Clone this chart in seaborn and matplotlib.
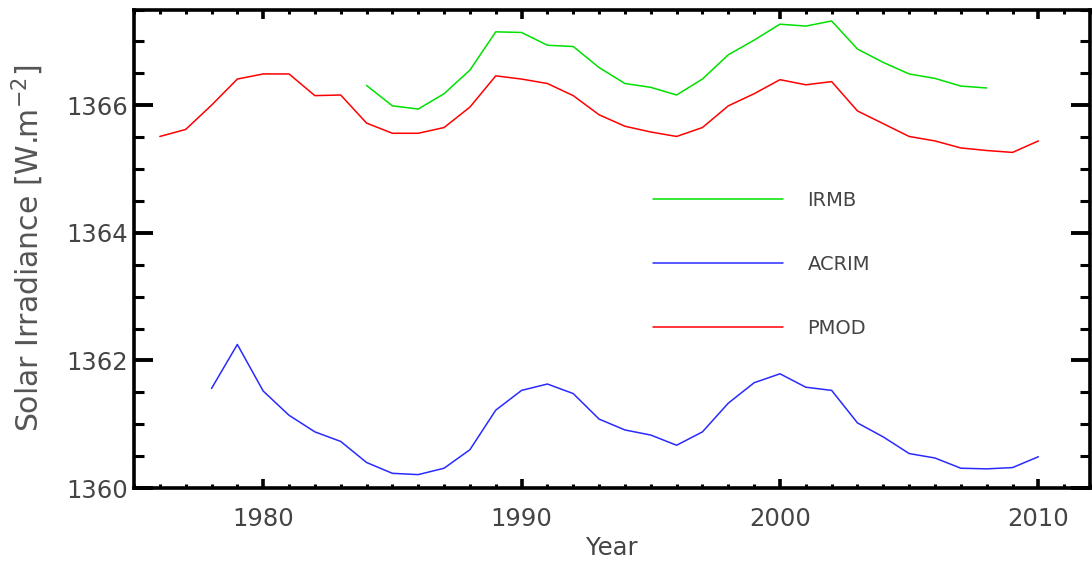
import matplotlib
matplotlib.use("Agg")
import matplotlib.pyplot as plt
from matplotlib.ticker import MultipleLocator
import numpy as np
import pandas as pd
import seaborn as sns

# Annual total solar irradiance composites [W m^-2]
pmod_years = list(range(1976, 2011))
pmod_vals = [1365.51, 1365.62, 1366.00, 1366.41, 1366.49, 1366.49, 1366.15, 1366.16,
             1365.72, 1365.56, 1365.56, 1365.65, 1365.97, 1366.46, 1366.41, 1366.34,
             1366.15, 1365.85, 1365.67, 1365.58, 1365.51, 1365.65, 1365.99, 1366.18,
             1366.40, 1366.32, 1366.37, 1365.91, 1365.71, 1365.51, 1365.44, 1365.33,
             1365.29, 1365.26, 1365.44]

acrim_years = list(range(1978, 2011))
acrim_vals = [1361.56, 1362.25, 1361.52, 1361.14, 1360.88, 1360.73, 1360.40, 1360.23,
              1360.21, 1360.31, 1360.60, 1361.22, 1361.53, 1361.63, 1361.48, 1361.08,
              1360.91, 1360.83, 1360.67, 1360.88, 1361.33, 1361.65, 1361.79, 1361.58,
              1361.53, 1361.02, 1360.80, 1360.54, 1360.47, 1360.31, 1360.30, 1360.32,
              1360.49]

irmb_years = list(range(1984, 2009))
irmb_vals = [1366.31, 1365.99, 1365.94, 1366.18, 1366.55, 1367.15, 1367.14, 1366.94,
             1366.92, 1366.59, 1366.34, 1366.28, 1366.16, 1366.41, 1366.79, 1367.02,
             1367.27, 1367.24, 1367.32, 1366.88, 1366.67, 1366.49, 1366.42, 1366.30,
             1366.27]

series_order = ["IRMB", "ACRIM", "PMOD"]
series_colors = {"IRMB": "#00e000", "ACRIM": "#2a2aff", "PMOD": "#ff0000"}

df = pd.concat([
    pd.DataFrame({"Year": irmb_years, "TSI": irmb_vals, "series": "IRMB"}),
    pd.DataFrame({"Year": acrim_years, "TSI": acrim_vals, "series": "ACRIM"}),
    pd.DataFrame({"Year": pmod_years, "TSI": pmod_vals, "series": "PMOD"}),
], ignore_index=True)

sns.set_theme(style="white")
plt.rcParams["font.family"] = ["DejaVu Sans"]

text_color = "#444444"

fig = plt.figure(figsize=(10.92, 5.66), dpi=100)
ax = fig.add_axes([0.1227, 0.1378, 0.8755, 0.8454])

sns.lineplot(data=df, x="Year", y="TSI", hue="series", hue_order=series_order,
             palette=series_colors, linewidth=1.1, ax=ax, legend=True)

ax.set_xlim(1975, 2012)
ax.set_ylim(1360, 1367.5)

ax.xaxis.set_major_locator(MultipleLocator(10))
ax.xaxis.set_minor_locator(MultipleLocator(1))
ax.yaxis.set_major_locator(MultipleLocator(2))
ax.yaxis.set_minor_locator(MultipleLocator(0.5))

for spine in ax.spines.values():
    spine.set_visible(True)
    spine.set_color("black")
    spine.set_linewidth(2.6)

ax.tick_params(axis="x", which="major", direction="in", length=6.5, width=2.6,
               top=True, bottom=True, pad=14, labelsize=17.5, labelcolor=text_color,
               color="black")
ax.tick_params(axis="x", which="minor", direction="in", length=3.0, width=2.2,
               top=True, bottom=True, color="black")
ax.tick_params(axis="y", which="major", direction="in", length=13.5, width=2.8,
               left=True, right=True, pad=4, labelsize=17.5, labelcolor=text_color,
               color="black")
ax.tick_params(axis="y", which="minor", direction="in", length=7.0, width=2.2,
               left=True, right=True, color="black")

ax.set_xlabel("Year", fontsize=17.5, color=text_color)
ax.set_ylabel("Solar Irradiance [W.m$^{-2}$]", fontsize=21.5, color="#555555")
ax.xaxis.set_label_coords(0.5, -0.125)
ax.xaxis.label.set_va("center")
ax.yaxis.set_label_coords(-0.111, 0.5)
ax.yaxis.label.set_va("center")

handles, labels = ax.get_legend_handles_labels()
ax.legend(handles, labels, loc="upper left", bbox_to_anchor=(0.543, 0.621),
          frameon=False, fontsize=14, handlelength=6.7, handletextpad=1.24,
          labelspacing=2.32, borderpad=0, borderaxespad=0, labelcolor=text_color)

fig.savefig("out.png", dpi=100)
